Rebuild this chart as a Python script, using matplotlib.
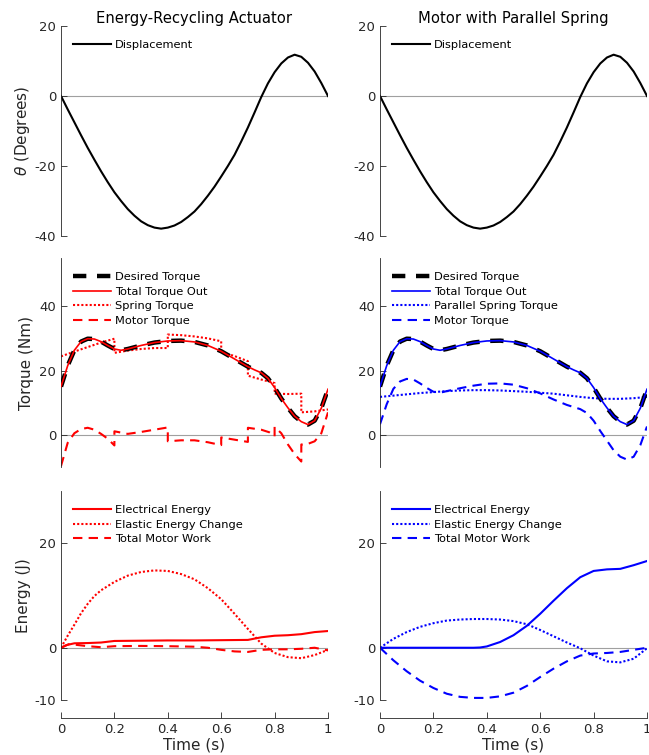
import matplotlib
matplotlib.use("Agg")
from matplotlib import pyplot as plt

# ---- displacement (same motion on both actuators) ----
t_disp = [0, 0.025, 0.05, 0.075, 0.1, 0.125, 0.15, 0.175, 0.2, 0.225, 0.25, 0.275,
          0.3, 0.325, 0.35, 0.375, 0.4, 0.425, 0.45, 0.475, 0.5, 0.525, 0.55, 0.575,
          0.6, 0.625, 0.65, 0.675, 0.7, 0.725, 0.75, 0.775, 0.8, 0.825, 0.85, 0.875,
          0.9, 0.925, 0.95, 0.975, 1.0]
displacement = [0, -3.8, -7.5, -11.2, -14.8, -18.2, -21.5, -24.6, -27.5, -30.0, -32.3,
                -34.2, -35.8, -36.9, -37.6, -37.9, -37.6, -37.0, -36.0, -34.6, -33.0,
                -30.9, -28.5, -25.9, -23.0, -20.0, -16.8, -13.0, -9.0, -4.7, -0.3,
                3.6, 6.8, 9.3, 11.0, 11.8, 11.2, 9.5, 7.0, 3.7, 0]

# ---- torques ----
t_tau = [0, 0.025, 0.05, 0.075, 0.1, 0.125, 0.15, 0.175, 0.2, 0.225, 0.25, 0.3,
         0.35, 0.4, 0.45, 0.5, 0.55, 0.6, 0.65, 0.7, 0.725, 0.75, 0.775, 0.8,
         0.825, 0.85, 0.875, 0.9, 0.925, 0.95, 0.975, 1.0]
desired_torque = [15.0, 21.5, 26.3, 29.0, 29.9, 29.8, 29.0, 27.8, 26.7, 26.3, 26.7,
                  27.8, 28.7, 29.2, 29.3, 28.9, 27.8, 26.0, 23.6, 21.2, 20.2, 19.3,
                  17.6, 14.7, 11.3, 8.4, 5.8, 4.1, 3.2, 4.4, 8.3, 14.2]
total_torque_era = desired_torque
total_torque_pse = desired_torque

# spring torque of the energy-recycling actuator (steps where the spring is re-locked)
t_spring_era = [0, 0.05, 0.1, 0.15, 0.2, 0.2, 0.25, 0.3, 0.35, 0.4, 0.4, 0.45, 0.5,
                0.55, 0.6, 0.6, 0.65, 0.7, 0.7, 0.75, 0.8, 0.8, 0.85, 0.9, 0.9, 0.95, 1.0]
spring_torque_era = [24.4, 25.9, 27.3, 28.7, 29.9, 25.5, 26.2, 26.7, 27.0, 27.0,
                     31.2, 31.0, 30.6, 30.0, 29.1, 25.8, 24.5, 22.9, 18.4, 17.2,
                     16.1, 12.8, 12.7, 12.8, 7.0, 7.3, 7.9]

t_motor_era = [0, 0.025, 0.05, 0.075, 0.1, 0.125, 0.15, 0.175, 0.2, 0.2, 0.25, 0.3,
               0.35, 0.4, 0.4, 0.45, 0.5, 0.55, 0.6, 0.6, 0.65, 0.7, 0.7, 0.75, 0.78,
               0.8, 0.8, 0.825, 0.85, 0.875, 0.9, 0.9, 0.925, 0.95, 0.975, 1.0]
motor_torque_era = [-9.7, -2.5, 0.5, 1.8, 2.2, 1.6, 0.3, -1.2, -3.3, 1.1, 0.3, 0.9,
                    1.6, 2.3, -2.0, -1.7, -1.7, -2.3, -3.2, -0.8, -1.5, -2.2, 2.2,
                    1.6, 0.8, -0.5, 2.5, 0.5, -3.0, -6.0, -8.3, -3.0, -2.8, -2.0,
                    0.5, 7.0]

t_spring_pse = [0, 0.05, 0.1, 0.15, 0.2, 0.25, 0.3, 0.35, 0.4, 0.45, 0.5, 0.55, 0.6,
                0.65, 0.7, 0.75, 0.8, 0.85, 0.9, 0.95, 1.0]
spring_torque_pse = [11.8, 12.2, 12.6, 13.0, 13.3, 13.6, 13.8, 13.9, 13.9, 13.8,
                     13.6, 13.4, 13.1, 12.8, 12.3, 11.8, 11.4, 11.2, 11.2, 11.4, 11.8]

t_motor_pse = [0, 0.025, 0.05, 0.075, 0.1, 0.125, 0.15, 0.175, 0.2, 0.225, 0.25, 0.3,
               0.35, 0.4, 0.45, 0.5, 0.55, 0.6, 0.65, 0.7, 0.75, 0.775, 0.8, 0.825,
               0.85, 0.875, 0.9, 0.925, 0.95, 0.975, 1.0]
motor_torque_pse = [3.3, 9.5, 14.3, 16.6, 17.4, 17.2, 16.0, 14.6, 13.4, 13.1, 13.6,
                    14.5, 15.3, 15.9, 16.0, 15.6, 14.5, 12.9, 11.0, 9.3, 8.0, 6.8,
                    4.4, 1.2, -1.8, -4.8, -6.8, -7.7, -6.8, -3.2, 2.6]

# ---- energies ----
t_e = [0, 0.05, 0.1, 0.15, 0.2, 0.25, 0.3, 0.35, 0.4, 0.45, 0.5, 0.55, 0.6, 0.65,
       0.7, 0.75, 0.8, 0.85, 0.9, 0.95, 1.0]

t_elec_era = [0, 0.02, 0.05, 0.1, 0.15, 0.2, 0.3, 0.4, 0.5, 0.6, 0.7, 0.75, 0.8,
              0.85, 0.9, 0.95, 1.0]
electrical_era = [0, 0.5, 0.85, 0.9, 1.0, 1.3, 1.35, 1.4, 1.4, 1.45, 1.5, 2.0, 2.3,
                  2.4, 2.6, 3.0, 3.2]
t_elastic_era = [0, 0.025, 0.05, 0.075, 0.1, 0.125, 0.15, 0.2, 0.25, 0.3, 0.35, 0.4,
                 0.45, 0.5, 0.55, 0.6, 0.65, 0.7, 0.75, 0.8, 0.85, 0.9, 0.95, 1.0]
elastic_era = [0, 2.3, 4.4, 6.6, 8.4, 9.9, 11.0, 12.6, 13.8, 14.5, 14.8, 14.7, 14.1,
               13.1, 11.4, 9.3, 6.5, 3.6, 0.8, -1.0, -1.8, -2.0, -1.4, -0.4]
t_work_era = [0, 0.03, 0.05, 0.1, 0.15, 0.2, 0.3, 0.4, 0.5, 0.55, 0.6, 0.65, 0.7,
              0.75, 0.8, 0.85, 0.9, 0.95, 1.0]
motor_work_era = [0, 0.7, 0.6, 0.3, 0.1, 0.3, 0.35, 0.3, 0.2, 0.0, -0.4, -0.7, -0.8,
                  -0.4, -0.3, -0.3, -0.2, 0.0, -0.5]

t_elec_pse = [0, 0.1, 0.2, 0.3, 0.35, 0.375, 0.4, 0.45, 0.5, 0.55, 0.6, 0.65, 0.7,
              0.75, 0.8, 0.85, 0.9, 0.95, 1.0]
electrical_pse = [0, 0, 0, 0, 0, 0.05, 0.25, 1.1, 2.4, 4.2, 6.5, 9.0, 11.4, 13.5,
                  14.7, 15.0, 15.1, 15.8, 16.6]
elastic_pse = [0, 1.7, 3.0, 4.0, 4.7, 5.2, 5.4, 5.5, 5.5, 5.4, 5.1, 4.5, 3.4, 2.2,
               1.0, -0.1, -1.5, -2.6, -2.8, -2.1, -0.1]
motor_work_pse = [0, -2.4, -4.5, -6.3, -7.7, -8.8, -9.4, -9.6, -9.6, -9.3, -8.6,
                  -7.3, -5.6, -4.0, -2.6, -1.5, -1.1, -1.0, -0.8, -0.4, 0.0]

titles = ["Energy-Recycling Actuator", "Motor with Parallel Spring"]
time_ticks = [0, 0.2, 0.4, 0.6, 0.8, 1]
time_labels = ["0", "0.2", "0.4", "0.6", "0.8", "1"]

plt.rcParams["font.family"] = "DejaVu Sans"
plt.rcParams["axes.unicode_minus"] = False
TXT = "#262626"

fig = plt.figure(figsize=(6.49, 7.55), dpi=100)
W, H = 649.0, 755.0
cols = [61, 380]
rows = [(26, 236), (258, 467), (491, 700)]
axs = [[None, None] for _ in range(3)]
for r, (top, bot) in enumerate(rows):
    for c, x0 in enumerate(cols):
        axs[r][c] = fig.add_axes([x0 / W, 1 - bot / H, 267 / W, (bot - top) / H])

dotted = (0, (1, 1))
dashed = (0, (4.5, 3))
desired_ls = (0, (3, 2.4))


def style(ax, ylim, yticks, bottom_row):
    ax.set_xlim(0, 1)
    ax.set_ylim(*ylim)
    ax.set_yticks(yticks)
    ax.axhline(0, color="#a0a0a0", lw=0.8, zorder=0)
    for s in ["top", "right"]:
        ax.spines[s].set_visible(False)
    ax.spines["left"].set_color(TXT)
    ax.spines["left"].set_linewidth(0.6)
    ax.tick_params(direction="in", length=4, width=0.6, colors=TXT, labelsize=9.5)
    if bottom_row:
        ax.spines["bottom"].set_position(("outward", 13))
        ax.spines["bottom"].set_color(TXT)
        ax.spines["bottom"].set_linewidth(0.6)
        ax.set_xticks(time_ticks)
        ax.set_xticklabels(time_labels)
        ax.set_xlabel("Time (s)", fontsize=11, color=TXT, labelpad=1)
    else:
        ax.spines["bottom"].set_visible(False)
        ax.set_xticks([])


def legend(ax):
    ax.legend(loc="upper left", bbox_to_anchor=(0.045, 0.932), frameon=False,
              fontsize=8.2, handlelength=3.3, handletextpad=0.4, labelspacing=0.4,
              borderpad=0, borderaxespad=0)


for c in range(2):
    ax = axs[0][c]
    ax.plot(t_disp, displacement, color="black", lw=1.5, label="Displacement")
    style(ax, (-40, 20), [-40, -20, 0, 20], False)
    legend(ax)
    ax.set_title(titles[c], fontsize=10.6, color="black", pad=2)

axs[0][0].set_ylabel(r"$\theta$ (Degrees)", fontsize=11, color=TXT, labelpad=2)

# torques, left
ax = axs[1][0]
ax.plot(t_tau, desired_torque, color="black", lw=3.2, ls=desired_ls,
        label="Desired Torque", zorder=3)
ax.plot(t_tau, total_torque_era, color="red", lw=1.2, label="Total Torque Out", zorder=4)
ax.plot(t_spring_era, spring_torque_era, color="red", lw=1.5, ls=dotted,
        label="Spring Torque", zorder=2)
ax.plot(t_motor_era, motor_torque_era, color="red", lw=1.5, ls=dashed,
        label="Motor Torque", zorder=2)
style(ax, (-10, 55), [0, 20, 40], False)
legend(ax)
ax.set_ylabel("Torque (Nm)", fontsize=11, color=TXT, labelpad=3.5)

# torques, right
ax = axs[1][1]
ax.plot(t_tau, desired_torque, color="black", lw=3.2, ls=desired_ls,
        label="Desired Torque", zorder=3)
ax.plot(t_tau, total_torque_pse, color="blue", lw=1.2, label="Total Torque Out", zorder=4)
ax.plot(t_spring_pse, spring_torque_pse, color="blue", lw=1.5, ls=dotted,
        label="Parallel Spring Torque", zorder=2)
ax.plot(t_motor_pse, motor_torque_pse, color="blue", lw=1.5, ls=dashed,
        label="Motor Torque", zorder=2)
style(ax, (-10, 55), [0, 20, 40], False)
legend(ax)

# energies
ax = axs[2][0]
ax.plot(t_elec_era, electrical_era, color="red", lw=1.5, label="Electrical Energy")
ax.plot(t_elastic_era, elastic_era, color="red", lw=1.5, ls=dotted,
        label="Elastic Energy Change")
ax.plot(t_work_era, motor_work_era, color="red", lw=1.5, ls=dashed, label="Total Motor Work")
style(ax, (-10, 30), [-10, 0, 20], True)
legend(ax)
ax.set_ylabel("Energy (J)", fontsize=11, color=TXT, labelpad=2.5)

ax = axs[2][1]
ax.plot(t_elec_pse, electrical_pse, color="blue", lw=1.5, label="Electrical Energy")
ax.plot(t_e, elastic_pse, color="blue", lw=1.5, ls=dotted, label="Elastic Energy Change")
ax.plot(t_e, motor_work_pse, color="blue", lw=1.5, ls=dashed, label="Total Motor Work")
style(ax, (-10, 30), [-10, 0, 20], True)
legend(ax)

fig.savefig("out.png", dpi=100)
